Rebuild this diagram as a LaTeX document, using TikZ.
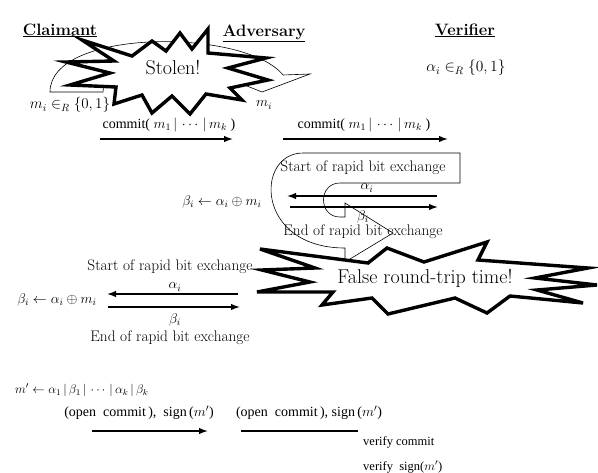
\RequirePackage{fix-cm}
\documentclass[tikz,border=0pt]{standalone}
\usepackage{fontspec}
\newfontfamily\tms{Liberation Serif}
\usetikzlibrary{arrows.meta}
\tikzset{
  msg/.style={-{Latex[length=9pt,width=6.5pt]}, line width=1.4pt},
  plainmsg/.style={line width=1.4pt},
  thinshape/.style={draw, line width=0.6pt, line join=miter},
  burst/.style={draw, line width=3.4pt, fill=white, line join=miter, miter limit=8},
  hdr/.style={font=\fontsize{16.5}{19}\selectfont\bfseries, inner sep=0pt},
  ptxt/.style={font=\fontsize{14}{16}\selectfont, inner sep=0pt},
  rtxt/.style={font=\fontsize{15.3}{17}\selectfont, inner sep=0pt},
  ttxt/.style={font=\tms\fontsize{14}{16}\selectfont, inner sep=0pt},
  smalltxt/.style={font=\tms\fontsize{12.5}{14}\selectfont, inner sep=0pt},
  bang/.style={font=\fontsize{20}{22}\selectfont, inner sep=0pt},
}
\begin{document}
\begin{tikzpicture}[x=1pt,y=-1pt]
\useasboundingbox (0,0) rectangle (598,472);

% curved block arrow (top)
\draw[thinshape, fill=white] (50,92) .. controls (50,28) and (245,28) .. (283,75)
  -- (310,74) -- (262,92) -- (232,80) .. controls (200,45) and (105,45) .. (103,92) -- cycle;

% Stolen! burst
\draw[burst] (82,40) -- (132,56) -- (152,41) -- (166,51) -- (180,33) -- (192,49)
  -- (208,29) -- (208,53) -- (266,58) -- (228,68) -- (268,80) -- (230,88)
  -- (242,100) -- (206,94) -- (190,114) -- (172,96) -- (152,113) -- (142,95)
  -- (114,104) -- (116,87) -- (70,85) -- (110,73) -- (66,62) -- (114,61) -- cycle;
\node[bang] (stolen) at (173,68) {Stolen!};

% headers
\node[hdr, anchor=base] (claimant) at (60,35) {\underline{Claimant}};
\node[hdr, anchor=base] (adversary) at (264,36) {\underline{Adversary}};
\node[hdr, anchor=base] (verifier) at (465,35) {\underline{Verifier}};

\node[ptxt, font=\fontsize{15.5}{17}\selectfont] (alphachoice) at (466,68) {$\alpha_i \in_R \{0, 1\}$};
\node[ptxt, font=\fontsize{15}{17}\selectfont] (mchoice) at (70,105) {$m_i \in_R \{0, 1\}$};
\node[ptxt] (mi) at (264,105) {$m_i$};

% commit messages
\node[ttxt] (commit1) at (169,125) {commit( $m_1 \,|\, \cdots \,|\, m_k$ )};
\coordinate (c1a) at (100,139); \coordinate (c1b) at (233,139);
\draw[msg] (c1a) -- (c1b);
\node[ttxt] (commit2) at (364,125) {commit( $m_1 \,|\, \cdots \,|\, m_k$ )};
\coordinate (c2a) at (283,139); \coordinate (c2b) at (448,139);
\draw[msg] (c2a) -- (c2b);

% U-turn block arrow (middle)
\draw[thinshape] (460,153) -- (303,153) .. controls (255,153) and (255,248) .. (345,248)
  -- (345,262) -- (393,233) -- (345,203) -- (345,217) -- (340,217)
  .. controls (318,217) and (318,183) .. (340,183) -- (460,183) -- cycle;

% middle rapid bit exchange (adversary - verifier)
\node[rtxt] (start1) at (363,168) {Start of rapid bit exchange};
\coordinate (a1r) at (437,196); \coordinate (a1l) at (287,196);
\draw[msg] (a1r) -- (a1l);
\node[ptxt] (alpha1) at (367,188) {$\alpha_i$};
\coordinate (b1l) at (290,207); \coordinate (b1r) at (438,207);
\draw[msg] (b1l) -- (b1r);
\node[ptxt] (beta1) at (363,217) {$\beta_i$};
\node[rtxt] (end1) at (363,232) {End of rapid bit exchange};
\node[ptxt] (xor1) at (222,202) {$\beta_i \leftarrow \alpha_i \oplus m_i$};

% lower rapid bit exchange (claimant - adversary)
\node[rtxt] (start2) at (170,267) {Start of rapid bit exchange};
\coordinate (a2r) at (238,294); \coordinate (a2l) at (107,294);
\draw[msg] (a2r) -- (a2l);
\node[ptxt] (alpha2) at (175,287) {$\alpha_i$};
\coordinate (b2l) at (108,307); \coordinate (b2r) at (240,307);
\draw[msg] (b2l) -- (b2r);
\node[ptxt] (beta2) at (175,320) {$\beta_i$};
\node[rtxt] (end2) at (170,338) {End of rapid bit exchange};
\node[ptxt] (xor2) at (57,300) {$\beta_i \leftarrow \alpha_i \oplus m_i$};

% False round-trip time! burst
\draw[burst] (260,249) -- (368,263) -- (387,248) -- (424,262) -- (487,242)
  -- (478,260) -- (588,268) -- (535,278) -- (597,285) -- (537,290) -- (583,303)
  -- (510,296) -- (487,313) -- (455,298) -- (388,314) -- (372,298) -- (322,305)
  -- (333,292) -- (257,292) -- (310,282) -- (262,270) -- (315,268) -- cycle;
\node[bang] (falsert) at (425,278) {False round-trip time!};

% final phase
\node[ptxt, anchor=west, font=\fontsize{12.5}{14}\selectfont] (mprime) at (15,390)
  {$m' \leftarrow \alpha_1 \,|\, \beta_1 \,|\, \cdots \,|\, \alpha_k \,|\, \beta_k$};
\node[ttxt] (open1) at (139,413) {(open\ \ commit\,),\ \ sign\,($m'$)};
\coordinate (o1a) at (92,431); \coordinate (o1b) at (208,431);
\draw[msg] (o1a) -- (o1b);
\node[ttxt] (open2) at (309,413) {(open\ \ commit\,),\ sign\,($m'$)};
\coordinate (o2a) at (241,431); \coordinate (o2b) at (358,431);
\draw[plainmsg] (o2a) -- (o2b);
\node[smalltxt, anchor=west] (vcommit) at (363,442) {verify commit};
\node[smalltxt, anchor=west] (vsign) at (363,467) {verify\ \ sign($m'$)};
\end{tikzpicture}
\end{document}
